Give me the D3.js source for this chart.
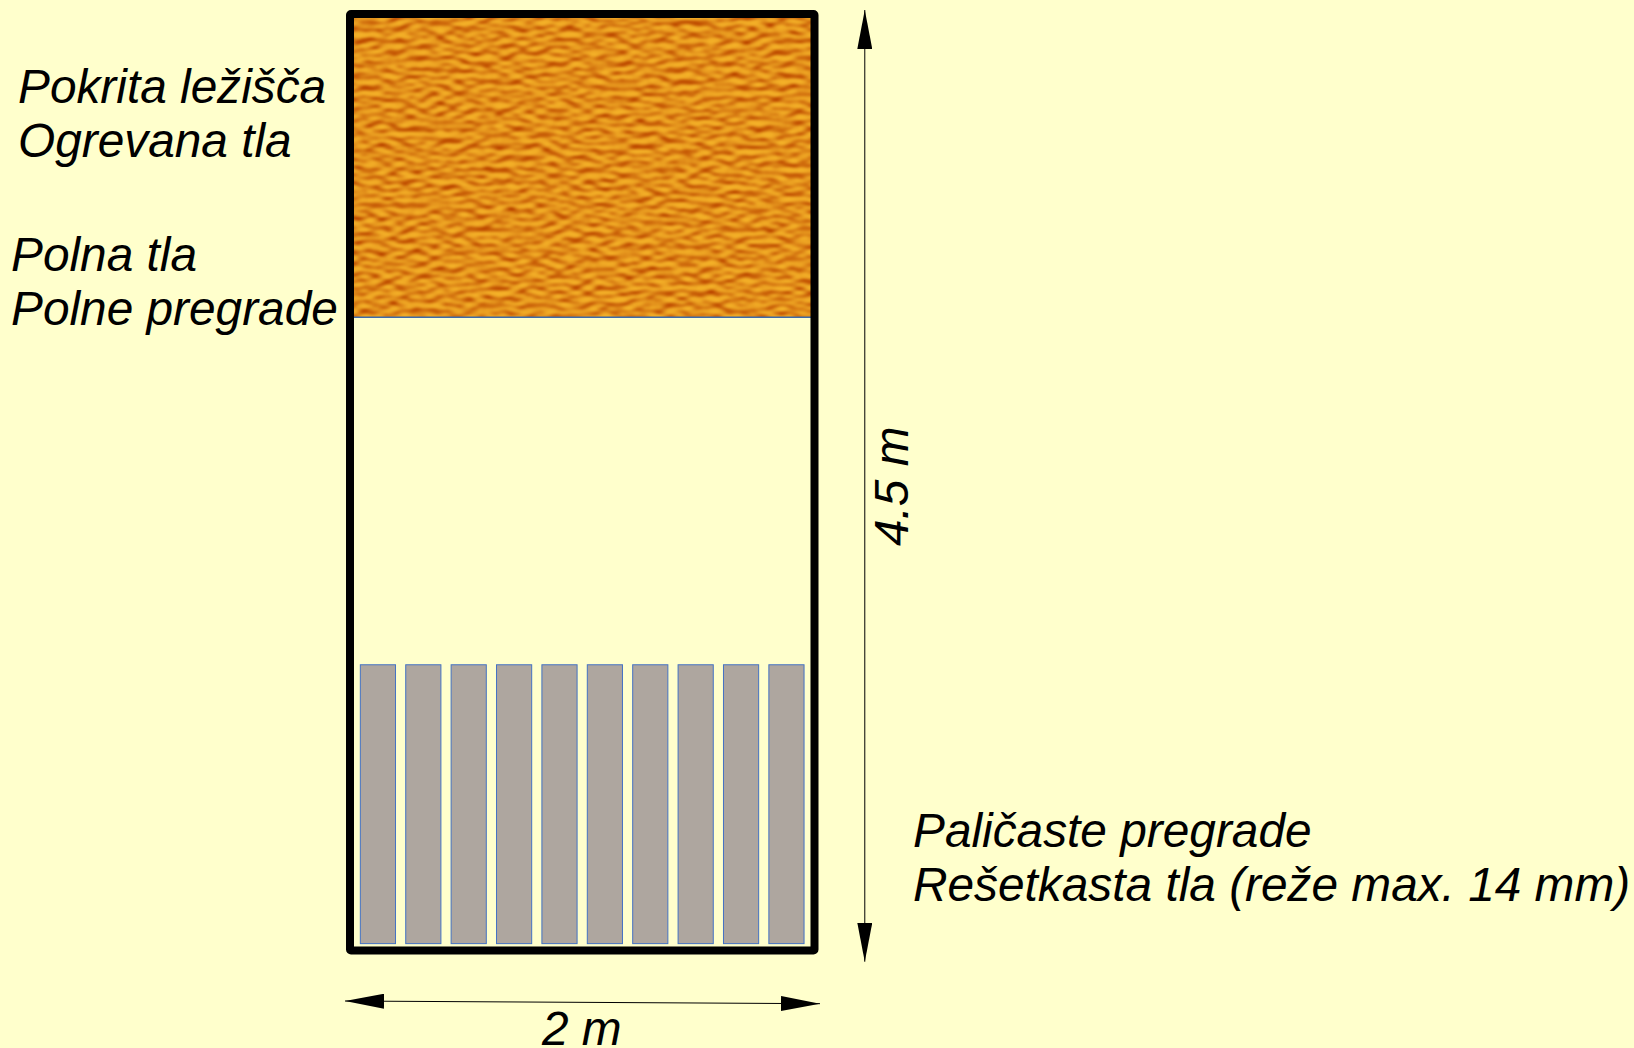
<!DOCTYPE html>
<html>
<head>
<meta charset="utf-8">
<script src="https://cdn.jsdelivr.net/npm/d3@7"></script>
<style>
  html, body { margin: 0; padding: 0; background: #ffffcc; overflow: hidden; }
  text { font-family: "Liberation Sans", sans-serif; font-style: italic; font-size: 47.8px; fill: #000; }
</style>
</head>
<body>
<div id="container"></div>
<script>
const WIDTH = 1634;
const HEIGHT = 1048;

// pen size in metres
const PEN_WIDTH_M = 2;
const PEN_LENGTH_M = 4.5;
const COVERED_END_M = 1.457;
const PICKET_START_M = 3.127;
const PICKET_END_M = 4.467;
const PICKET_LEFT_M = 0.0445;
const PICKET_RIGHT_M = 1.955;
const PICKETS = [0, 1, 2, 3, 4, 5, 6, 7, 8, 9];

const LEFT_LABELS = ['Pokrita ležišča', 'Ogrevana tla', 'Polna tla', 'Polne pregrade'];
const RIGHT_LABELS = ['Paličaste pregrade', 'Rešetkasta tla (reže max. 14 mm)'];
const WIDTH_LABEL = '2 m';
const LENGTH_LABEL = '4.5 m';

const x = d3.scaleLinear().domain([0, PEN_WIDTH_M]).range([350, 814.5]);
const y = d3.scaleLinear().domain([0, PEN_LENGTH_M]).range([14, 950.5]);
const picketX = d3.scaleBand()
  .domain(PICKETS)
  .range([x(PICKET_LEFT_M), x(PICKET_RIGHT_M)])
  .paddingInner(0.225);

const svg = d3.select('#container')
  .append('svg')
  .attr('width', WIDTH)
  .attr('height', HEIGHT)
  .style('display', 'block')
  .style('background-color', '#ffffcc');

const defs = svg.append('defs');

// bumpy straw texture
const straw = defs.append('filter')
  .attr('id', 'straw')
  .attr('x', 0).attr('y', 0).attr('width', 1).attr('height', 1)
  .attr('color-interpolation-filters', 'sRGB');
straw.append('feTurbulence')
  .attr('type', 'fractalNoise')
  .attr('baseFrequency', '0.085 0.17')
  .attr('numOctaves', 1)
  .attr('seed', 7)
  .attr('result', 'noise');
const light = straw.append('feDiffuseLighting')
  .attr('in', 'noise')
  .attr('surfaceScale', 2.6)
  .attr('diffuseConstant', 1)
  .attr('lighting-color', '#ffffff')
  .attr('result', 'lit');
light.append('feDistantLight').attr('azimuth', 90).attr('elevation', 55);
straw.append('feGaussianBlur').attr('in', 'lit').attr('stdDeviation', 0.8).attr('result', 'soft');
straw.append('feColorMatrix')
  .attr('in', 'soft')
  .attr('type', 'matrix')
  .attr('values', `0.4 0 0 0 0.56
                   0.75 0 0 0 -0.05
                   0.3 0 0 0 -0.14
                   0 0 0 0 1`);

defs.append('marker')
  .attr('id', 'arrow')
  .attr('viewBox', '0 0 39 15')
  .attr('refX', 39)
  .attr('refY', 7.5)
  .attr('markerUnits', 'userSpaceOnUse')
  .attr('markerWidth', 39)
  .attr('markerHeight', 15)
  .attr('orient', 'auto-start-reverse')
  .append('path')
  .attr('d', 'M0,0L39,7.5L0,15Z')
  .attr('fill', '#000');

const g = svg.append('g');

// covered lying area
g.append('rect')
  .attr('x', x(0))
  .attr('y', y(0))
  .attr('width', x(PEN_WIDTH_M) - x(0))
  .attr('height', y(COVERED_END_M) - y(0))
  .attr('filter', 'url(#straw)');

g.append('line')
  .attr('x1', x(0))
  .attr('x2', x(PEN_WIDTH_M))
  .attr('y1', y(COVERED_END_M))
  .attr('y2', y(COVERED_END_M))
  .style('stroke', '#3d6aa8')
  .style('stroke-width', 1.5);

// slatted floor
g.selectAll('rect.picket')
  .data(PICKETS)
  .join('rect')
  .attr('class', 'picket')
  .attr('x', d => picketX(d))
  .attr('y', y(PICKET_START_M))
  .attr('width', picketX.bandwidth())
  .attr('height', y(PICKET_END_M) - y(PICKET_START_M))
  .style('fill', '#aea69f')
  .style('stroke', '#4472c4')
  .style('stroke-width', 1);

// pen outline
g.append('rect')
  .attr('x', x(0))
  .attr('y', y(0))
  .attr('width', x(PEN_WIDTH_M) - x(0))
  .attr('height', y(PEN_LENGTH_M) - y(0))
  .attr('rx', 1)
  .style('fill', 'none')
  .style('stroke', '#000')
  .style('stroke-width', 8)
  .style('stroke-linejoin', 'round');

// dimension lines
const LENGTH_DIM_X = x(2.2165);
const WIDTH_DIM = [[x(-0.0215), 1001], [x(2.0237), 1003.7]];

g.append('line')
  .attr('x1', LENGTH_DIM_X)
  .attr('x2', LENGTH_DIM_X)
  .attr('y1', 10)
  .attr('y2', 961.7)
  .attr('marker-start', 'url(#arrow)')
  .attr('marker-end', 'url(#arrow)')
  .style('stroke', '#000')
  .style('stroke-width', 1);

g.append('line')
  .attr('x1', WIDTH_DIM[0][0])
  .attr('y1', WIDTH_DIM[0][1])
  .attr('x2', WIDTH_DIM[1][0])
  .attr('y2', WIDTH_DIM[1][1])
  .attr('marker-start', 'url(#arrow)')
  .attr('marker-end', 'url(#arrow)')
  .style('stroke', '#000')
  .style('stroke-width', 1);

// labels
const leftPos = [[18, 103], [18, 157], [11, 270.5], [11, 324.5]];
g.selectAll('text.left')
  .data(LEFT_LABELS)
  .join('text')
  .attr('class', 'left')
  .attr('x', (d, i) => leftPos[i][0])
  .attr('y', (d, i) => leftPos[i][1])
  .text(d => d);

const rightBaselines = [847, 901];
g.selectAll('text.right')
  .data(RIGHT_LABELS)
  .join('text')
  .attr('class', 'right')
  .attr('x', 913)
  .attr('y', (d, i) => rightBaselines[i])
  .text(d => d);

g.append('text')
  .attr('x', 542)
  .attr('y', 1045)
  .text(WIDTH_LABEL);

g.append('text')
  .attr('transform', 'translate(908,546) rotate(-90)')
  .text(LENGTH_LABEL);
</script>
</body>
</html>
